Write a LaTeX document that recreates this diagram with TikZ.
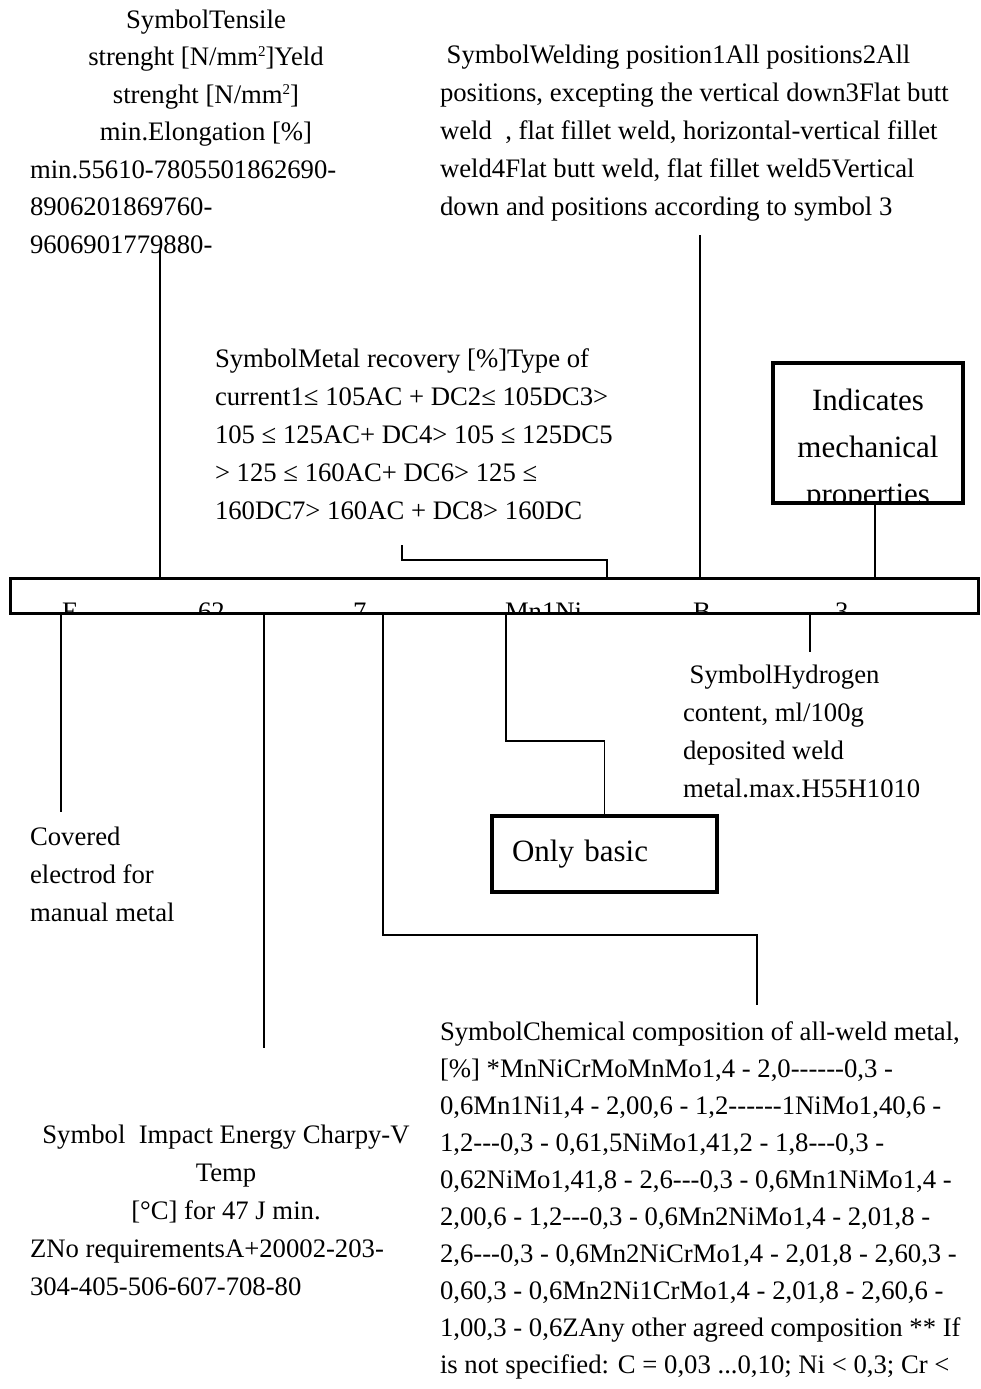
\documentclass[tikz,border=0pt]{standalone}
\usepackage{fontspec}
\setmainfont{Liberation Serif}
\usetikzlibrary{positioning,calc}
\tikzset{font=\fontsize{26.7}{38}\selectfont}
\newcommand{\sqsup}{\raisebox{9pt}{\fontsize{15}{15}\selectfont 2}}

\begin{document}
\begin{tikzpicture}[x=1pt,y=-1pt]
	\useasboundingbox (0,0) rectangle (980,1389);
	\begin{scope}
		\tikzstyle{every node}=[inner sep=0pt, outer sep=0pt]
		\tikzstyle{boxed}=[draw, line width=3.5pt]
		\tikzstyle{bigtext}=[font=\fontsize{31}{47}\selectfont]
		\tikzstyle{txt}=[align=left, anchor=base west]
		\tikzstyle{ctxt}=[align=center, anchor=base]
		\tikzstyle{wire}=[line width=1.3pt]

		% the designation bar
		\node[boxed, line width=3pt, anchor=north west, minimum width=968pt, minimum height=35pt] (bar) at (10,578) {};
		\begin{scope}
			\clip ([shift={(1.5pt,-1.5pt)}]bar.north west) rectangle ([shift={(-1.5pt,1.5pt)}]bar.south east);
			\node[txt] (lE) at (62,620) {E};
			\node[txt] (l62) at (198,620) {62};
			\node[txt] (l7) at (353,620) {7};
			\node[txt] (lMn) at (505,620) {Mn1Ni};
			\node[txt] (lB) at (693,620) {B};
			\node[txt] (l3) at (835,620) {3};
		\end{scope}

		% texts above the bar (anchored at the last line)
		\node[ctxt, font=\fontsize{26.7}{37.5}\selectfont] (tensile) at (206,140.5) {SymbolTensile\\ strenght [N/mm\sqsup]Yeld\\ strenght [N/mm\sqsup]\\ min.Elongation [\%]};
		\node[txt, font=\fontsize{26.7}{37.5}\selectfont] (tensilevals) at (30,253) {min.55610-7805501862690-\\ 8906201869760-\\ 9606901779880-};
		\node[txt] (welding) at (440,215) {\ SymbolWelding position1All positions2All\\ positions, excepting the vertical down3Flat butt\\ weld\ \ , flat fillet weld, horizontal-vertical fillet\\ weld4Flat butt weld, flat fillet weld5Vertical\\ down and positions according to symbol 3};
		\node[txt] (recovery) at (215,519) {SymbolMetal recovery [\%]Type of\\ current1≤ 105AC + DC2≤ 105DC3>\\ 105 ≤ 125AC+ DC4> 105 ≤ 125DC5\\ > 125 ≤ 160AC+ DC6> 125 ≤\\ 160DC7> 160AC + DC8> 160DC};

		\node[boxed, minimum width=190pt, minimum height=140pt] (mechbox) at (868,433) {};
		\begin{scope}
			\clip ([shift={(1.75pt,-1.75pt)}]mechbox.north west) rectangle ([shift={(-1.75pt,1.75pt)}]mechbox.south east);
			\node[ctxt, bigtext] (mechtext) at (868,504) {Indicates\\ mechanical\\ properties};
		\end{scope}

		% texts below the bar
		\node[txt] (hydrogen) at (683,797) {\ SymbolHydrogen\\ content, ml/100g\\ deposited weld\\ metal.max.H55H1010};
		\node[txt] (covered) at (30,921) {Covered\\ electrod for\\ manual metal};
		\node[boxed, bigtext, text width=185pt, inner xsep=20pt, minimum height=76pt, align=left] (basicbox) at (604.5,854) {Only basic};
		\node[ctxt] (impact) at (226,1219) {Symbol\ \ Impact Energy Charpy-V\\ Temp\\ {[°C]} for 47 J min.};
		\node[txt] (impactvals) at (30,1295) {ZNo requirementsA+20002-203-\\ 304-405-506-607-708-80};
		\node[txt, font=\fontsize{26.7}{37}\selectfont] (chemical) at (440,1373) {SymbolChemical composition of all-weld metal,\\
			{[\%]} *MnNiCrMoMnMo1,4 - 2,0-{}-{}-{}-{}-{}-0,3 -\\
			0,6Mn1Ni1,4 - 2,00,6 - 1,2-{}-{}-{}-{}-{}-1NiMo1,40,6 -\\
			1,2-{}-{}-0,3 - 0,61,5NiMo1,41,2 - 1,8-{}-{}-0,3 -\\
			0,62NiMo1,41,8 - 2,6-{}-{}-0,3 - 0,6Mn1NiMo1,4 -\\
			2,00,6 - 1,2-{}-{}-0,3 - 0,6Mn2NiMo1,4 - 2,01,8 -\\
			2,6-{}-{}-0,3 - 0,6Mn2NiCrMo1,4 - 2,01,8 - 2,60,3 -\\
			0,60,3 - 0,6Mn2Ni1CrMo1,4 - 2,01,8 - 2,60,6 -\\
			1,00,3 - 0,6ZAny other agreed composition ** If\\
			is not specified: C = 0,03 ...0,10; Ni < 0,3; Cr <};

		% connector ends
		\coordinate (cT) at (160,250);
		\coordinate (cW) at (700,235);
		\coordinate (cI) at (875,0);
		\coordinate (cR) at (402,545);
		\coordinate (cRb) at (607,560);
		\coordinate (cE) at (61,812);
		\coordinate (c62) at (264,1048);
		\coordinate (c7) at (383,935);
		\coordinate (c7b) at (757,1005);
		\coordinate (cM) at (506,741);
		\coordinate (cB) at (810,652);

		\draw[wire] (cT) -- (cT |- bar.north);
		\draw[wire] (cW) -- (cW |- bar.north);
		\draw[wire] (mechbox.south -| cI) -- (cI |- bar.north);
		\draw[wire] (cR) |- (cRb) -- (cRb |- bar.north);
		\draw[wire] (cE |- bar.south) -- (cE);
		\draw[wire] (c62 |- bar.south) -- (c62);
		\draw[wire] (c7 |- bar.south) -- (c7) -| (c7b);
		\draw[wire] (cM |- bar.south) -- (cM) -| (basicbox.north);
		\draw[wire] (cB |- bar.south) -- (cB);
	\end{scope}
\end{tikzpicture}
\end{document}
